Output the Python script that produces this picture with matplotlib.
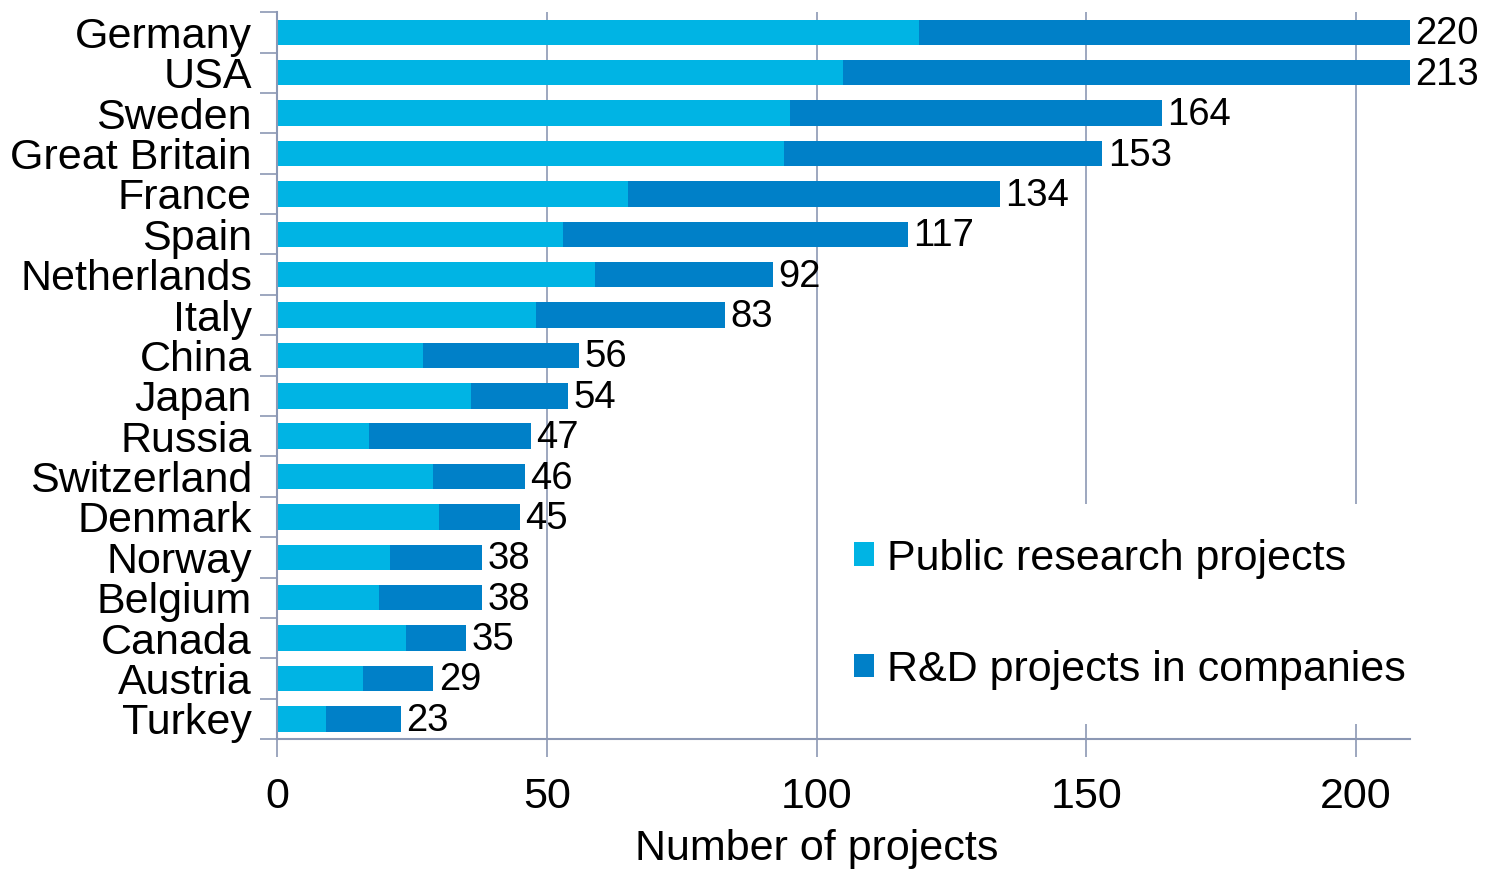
import matplotlib.pyplot as plt
import numpy as np
from matplotlib.ticker import FixedLocator

plt.rcParams['font.family'] = ['Liberation Sans', 'DejaVu Sans']

countries = ['Germany', 'USA', 'Sweden', 'Great Britain', 'France', 'Spain',
             'Netherlands', 'Italy', 'China', 'Japan', 'Russia', 'Switzerland',
             'Denmark', 'Norway', 'Belgium', 'Canada', 'Austria', 'Turkey']
totals = [220, 213, 164, 153, 134, 117, 92, 83, 56, 54, 47, 46, 45, 38, 38, 35, 29, 23]
public = [119, 105, 95, 94, 65, 53, 59, 48, 27, 36, 17, 29, 30, 21, 19, 24, 16, 9]
companies = [t - p for t, p in zip(totals, public)]

c_public = '#00B4E4'
c_comp = '#0080C8'
axis_col = '#8C98B4'
XMAX = 210

fig = plt.figure(figsize=(14.85, 8.72), dpi=100)
ax = fig.add_axes([0.1865, 0.1525, 0.763, 0.8335])

y = np.arange(len(countries))
ax.barh(y, public, height=0.63, color=c_public, label='Public research projects')
ax.barh(y, companies, left=public, height=0.63, color=c_comp, label='R&D projects in companies')

for yi, t in zip(y, totals):
    ax.text(min(t, XMAX) + 1.0, yi + 0.05, str(t), va='center', ha='left', fontsize=27.5)

ax.set_xlim(0, XMAX)
ax.set_ylim(len(countries) - 0.5, -0.5)
ax.set_yticks(y)
ax.set_yticklabels(countries, fontsize=31)
ax.yaxis.set_minor_locator(FixedLocator(np.arange(-0.5, len(countries), 1.0)))
ax.tick_params(axis='y', which='major', length=0, pad=18)
ax.tick_params(axis='y', which='minor', length=12, width=1.2, color=axis_col)
ax.set_xticks([0, 50, 100, 150, 200])
ax.tick_params(axis='x', labelsize=31, length=13, width=1.2, color=axis_col, pad=14)
ax.set_xlabel('Number of projects', fontsize=31)
ax.xaxis.set_label_coords(0.476, -0.124)

ax.xaxis.grid(True, color=axis_col, linewidth=1.2)
ax.set_axisbelow(True)
for s in ['top', 'right']:
    ax.spines[s].set_visible(False)
for s in ['left', 'bottom']:
    ax.spines[s].set_color(axis_col)
    ax.spines[s].set_linewidth(1.5)

leg = ax.legend(loc='lower right', bbox_to_anchor=(1.027, 0.0205), fontsize=31,
                frameon=True, fancybox=False, handlelength=0.47, handleheight=0.47,
                handletextpad=0.3, labelspacing=1.65, borderpad=0.8, borderaxespad=0)
leg.get_frame().set_facecolor('white')
leg.get_frame().set_edgecolor('none')
leg.get_frame().set_alpha(1.0)

fig.savefig('out.png', dpi=100)
